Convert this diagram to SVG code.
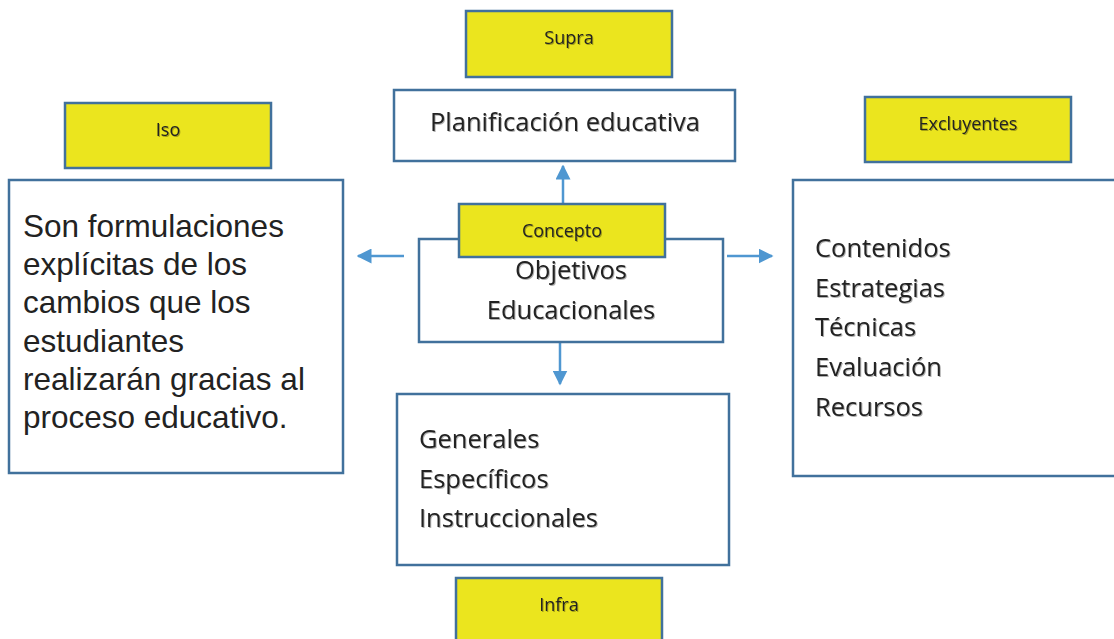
<svg xmlns="http://www.w3.org/2000/svg" width="1114" height="639" viewBox="0 0 1114 639">
<defs>
<marker id="ah" viewBox="0 0 10 10" refX="9" refY="5" markerWidth="6" markerHeight="6" markerUnits="strokeWidth" orient="auto">
<path d="M0,0 L10,5 L0,10 z" fill="#4F97D1"/>
</marker>
<filter id="sh" x="-5%" y="-20%" width="110%" height="140%">
<feDropShadow dx="1" dy="1" stdDeviation="0.6" flood-color="#000" flood-opacity="0.3"/>
</filter>
</defs>
<style>
.box{fill:#fff;stroke:#41719C;stroke-width:2.5}
.tag{fill:#EBE51E;stroke:#41719C;stroke-width:2.5}
.lbl{font-family:"Open Sans",Lato,sans-serif;font-size:18px;fill:#222;text-anchor:middle;filter:url(#sh)}
.big{font-family:"Open Sans",Lato,sans-serif;font-size:25.5px;fill:#222;filter:url(#sh)}
.arial{font-family:"Liberation Sans",Arial,sans-serif;font-size:31.5px;fill:#222}
.con{stroke:#4F97D1;stroke-width:2.5;fill:none;marker-end:url(#ah)}
</style>
<rect width="1114" height="639" fill="#fff"/>
<g id="connectors">
<line class="con" x1="563" y1="203" x2="563" y2="166"/>
<line class="con" x1="404" y1="256" x2="358" y2="256"/>
<line class="con" x1="727" y1="256" x2="772" y2="256"/>
<line class="con" x1="560" y1="342" x2="560" y2="384"/>
</g>
<g id="supra">
<rect class="tag" x="466" y="11" width="206" height="66"/>
<text class="lbl" x="569" y="44">Supra</text>
</g>
<g id="planificacion">
<rect class="box" x="394" y="90" width="341" height="71"/>
<text class="big" x="565" y="131" text-anchor="middle">Planificación educativa</text>
</g>
<g id="iso">
<rect class="tag" x="65" y="103" width="206" height="65"/>
<text class="lbl" x="168" y="136">Iso</text>
</g>
<g id="definicion">
<rect class="box" x="9" y="180" width="334" height="293"/>
<text class="arial" x="23">
<tspan x="23" y="237">Son formulaciones</tspan>
<tspan x="23" y="275">explícitas de los</tspan>
<tspan x="23" y="313">cambios que los</tspan>
<tspan x="23" y="352">estudiantes</tspan>
<tspan x="23" y="390">realizarán gracias al</tspan>
<tspan x="23" y="428">proceso educativo.</tspan>
</text>
</g>
<g id="objetivos">
<rect class="box" x="419" y="239" width="304" height="103"/>
<text class="big" x="571" y="279" text-anchor="middle">Objetivos</text>
<text class="big" x="571" y="319" text-anchor="middle">Educacionales</text>
</g>
<g id="concepto">
<rect class="tag" x="459" y="204" width="206" height="53"/>
<text class="lbl" x="562" y="237">Concepto</text>
</g>
<g id="excluyentes">
<rect class="tag" x="865" y="97" width="206" height="65"/>
<text class="lbl" x="968" y="130">Excluyentes</text>
</g>
<g id="componentes">
<rect class="box" x="793" y="180" width="330" height="296"/>
<text class="big">
<tspan x="815" y="257">Contenidos</tspan>
<tspan x="815" y="297">Estrategias</tspan>
<tspan x="815" y="336">Técnicas</tspan>
<tspan x="815" y="376">Evaluación</tspan>
<tspan x="815" y="416">Recursos</tspan>
</text>
</g>
<g id="tipos">
<rect class="box" x="397" y="394" width="332" height="171"/>
<text class="big">
<tspan x="419" y="448">Generales</tspan>
<tspan x="419" y="488">Específicos</tspan>
<tspan x="419" y="527">Instruccionales</tspan>
</text>
</g>
<g id="infra">
<rect class="tag" x="456" y="578" width="206" height="70"/>
<text class="lbl" x="559" y="611">Infra</text>
</g>
</svg>
